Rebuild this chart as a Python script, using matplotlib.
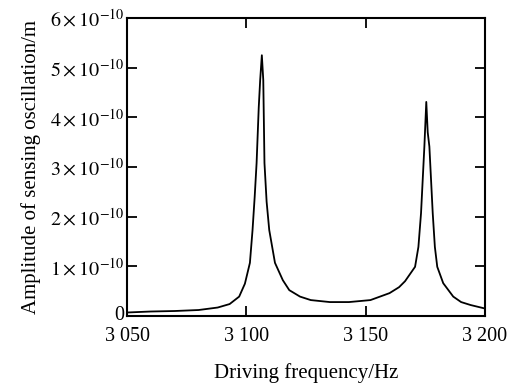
import matplotlib
matplotlib.use("Agg")
import matplotlib.pyplot as plt
import matplotlib.transforms as mtransforms

freq = [3050, 3060, 3070, 3080, 3088, 3093, 3097, 3099.4, 3101.5, 3102.6, 3103.5,
        3104.3, 3105.2, 3105.8, 3106.5, 3107.1, 3107.6, 3108.5, 3109.6, 3112, 3115.3,
        3118, 3122.5, 3127, 3135, 3143, 3152, 3160, 3164, 3166.5, 3170.7, 3172.1,
        3173.2, 3173.9, 3174.6, 3175.4, 3176.0, 3176.7, 3177.4, 3178.1, 3179, 3180,
        3182.5, 3186.7, 3190, 3194, 3200]
amp_e10 = [0.07, 0.09, 0.10, 0.12, 0.17, 0.24, 0.39, 0.65, 1.07, 1.73, 2.40,
           3.08, 4.20, 4.75, 5.25, 4.75, 3.08, 2.30, 1.73, 1.07, 0.72,
           0.52, 0.39, 0.32, 0.28, 0.28, 0.32, 0.46, 0.58, 0.70, 0.99, 1.39,
           2.07, 2.74, 3.41, 4.31, 3.70, 3.41, 2.74, 2.07, 1.39, 0.99,
           0.66, 0.39, 0.28, 0.22, 0.15]
xticks = [3050, 3100, 3150, 3200]
xticklabels = ["3 050", "3 100", "3 150", "3 200"]
yticks = [0, 1, 2, 3, 4, 5, 6]
yticklabels = ["0"] + [r"$%d\times10^{-10}$" % k for k in range(1, 7)]

plt.rcParams['font.family'] = ['Liberation Serif', 'DejaVu Serif']
plt.rcParams['mathtext.fontset'] = 'stix'

fig = plt.figure(figsize=(5.22, 3.83), dpi=100)
ax = fig.add_axes([0.2433, 0.175, 0.6858, 0.778])
amp = [a * 1e-10 for a in amp_e10]
ax.plot(freq, amp, color='black', lw=1.3)
ax.set_xlim(3050, 3200)
ax.set_ylim(0, 6e-10)
ax.set_xticks(xticks)
ax.set_xticklabels(xticklabels, fontsize=14.5)
ax.set_yticks([y * 1e-10 for y in yticks])
ax.set_yticklabels(yticklabels, fontsize=14.5)
ax.tick_params(direction='in', length=7, width=1.3, top=True, right=True)
ax.tick_params(axis='x', pad=8)
ax.tick_params(axis='y', pad=2)
for s in ax.spines.values():
    s.set_linewidth(1.5)
# nudge the "0" label up slightly so it clears the x tick labels
zero_lbl = ax.get_yticklabels()[0]
zero_lbl.set_transform(zero_lbl.get_transform() +
                       mtransforms.ScaledTranslation(0, 2 / 72, fig.dpi_scale_trans))
ax.set_xlabel("Driving frequency/Hz", fontsize=15, labelpad=12)
ax.set_ylabel("Amplitude of sensing oscillation/m", fontsize=15, labelpad=6)
fig.savefig("out.png", dpi=100)
